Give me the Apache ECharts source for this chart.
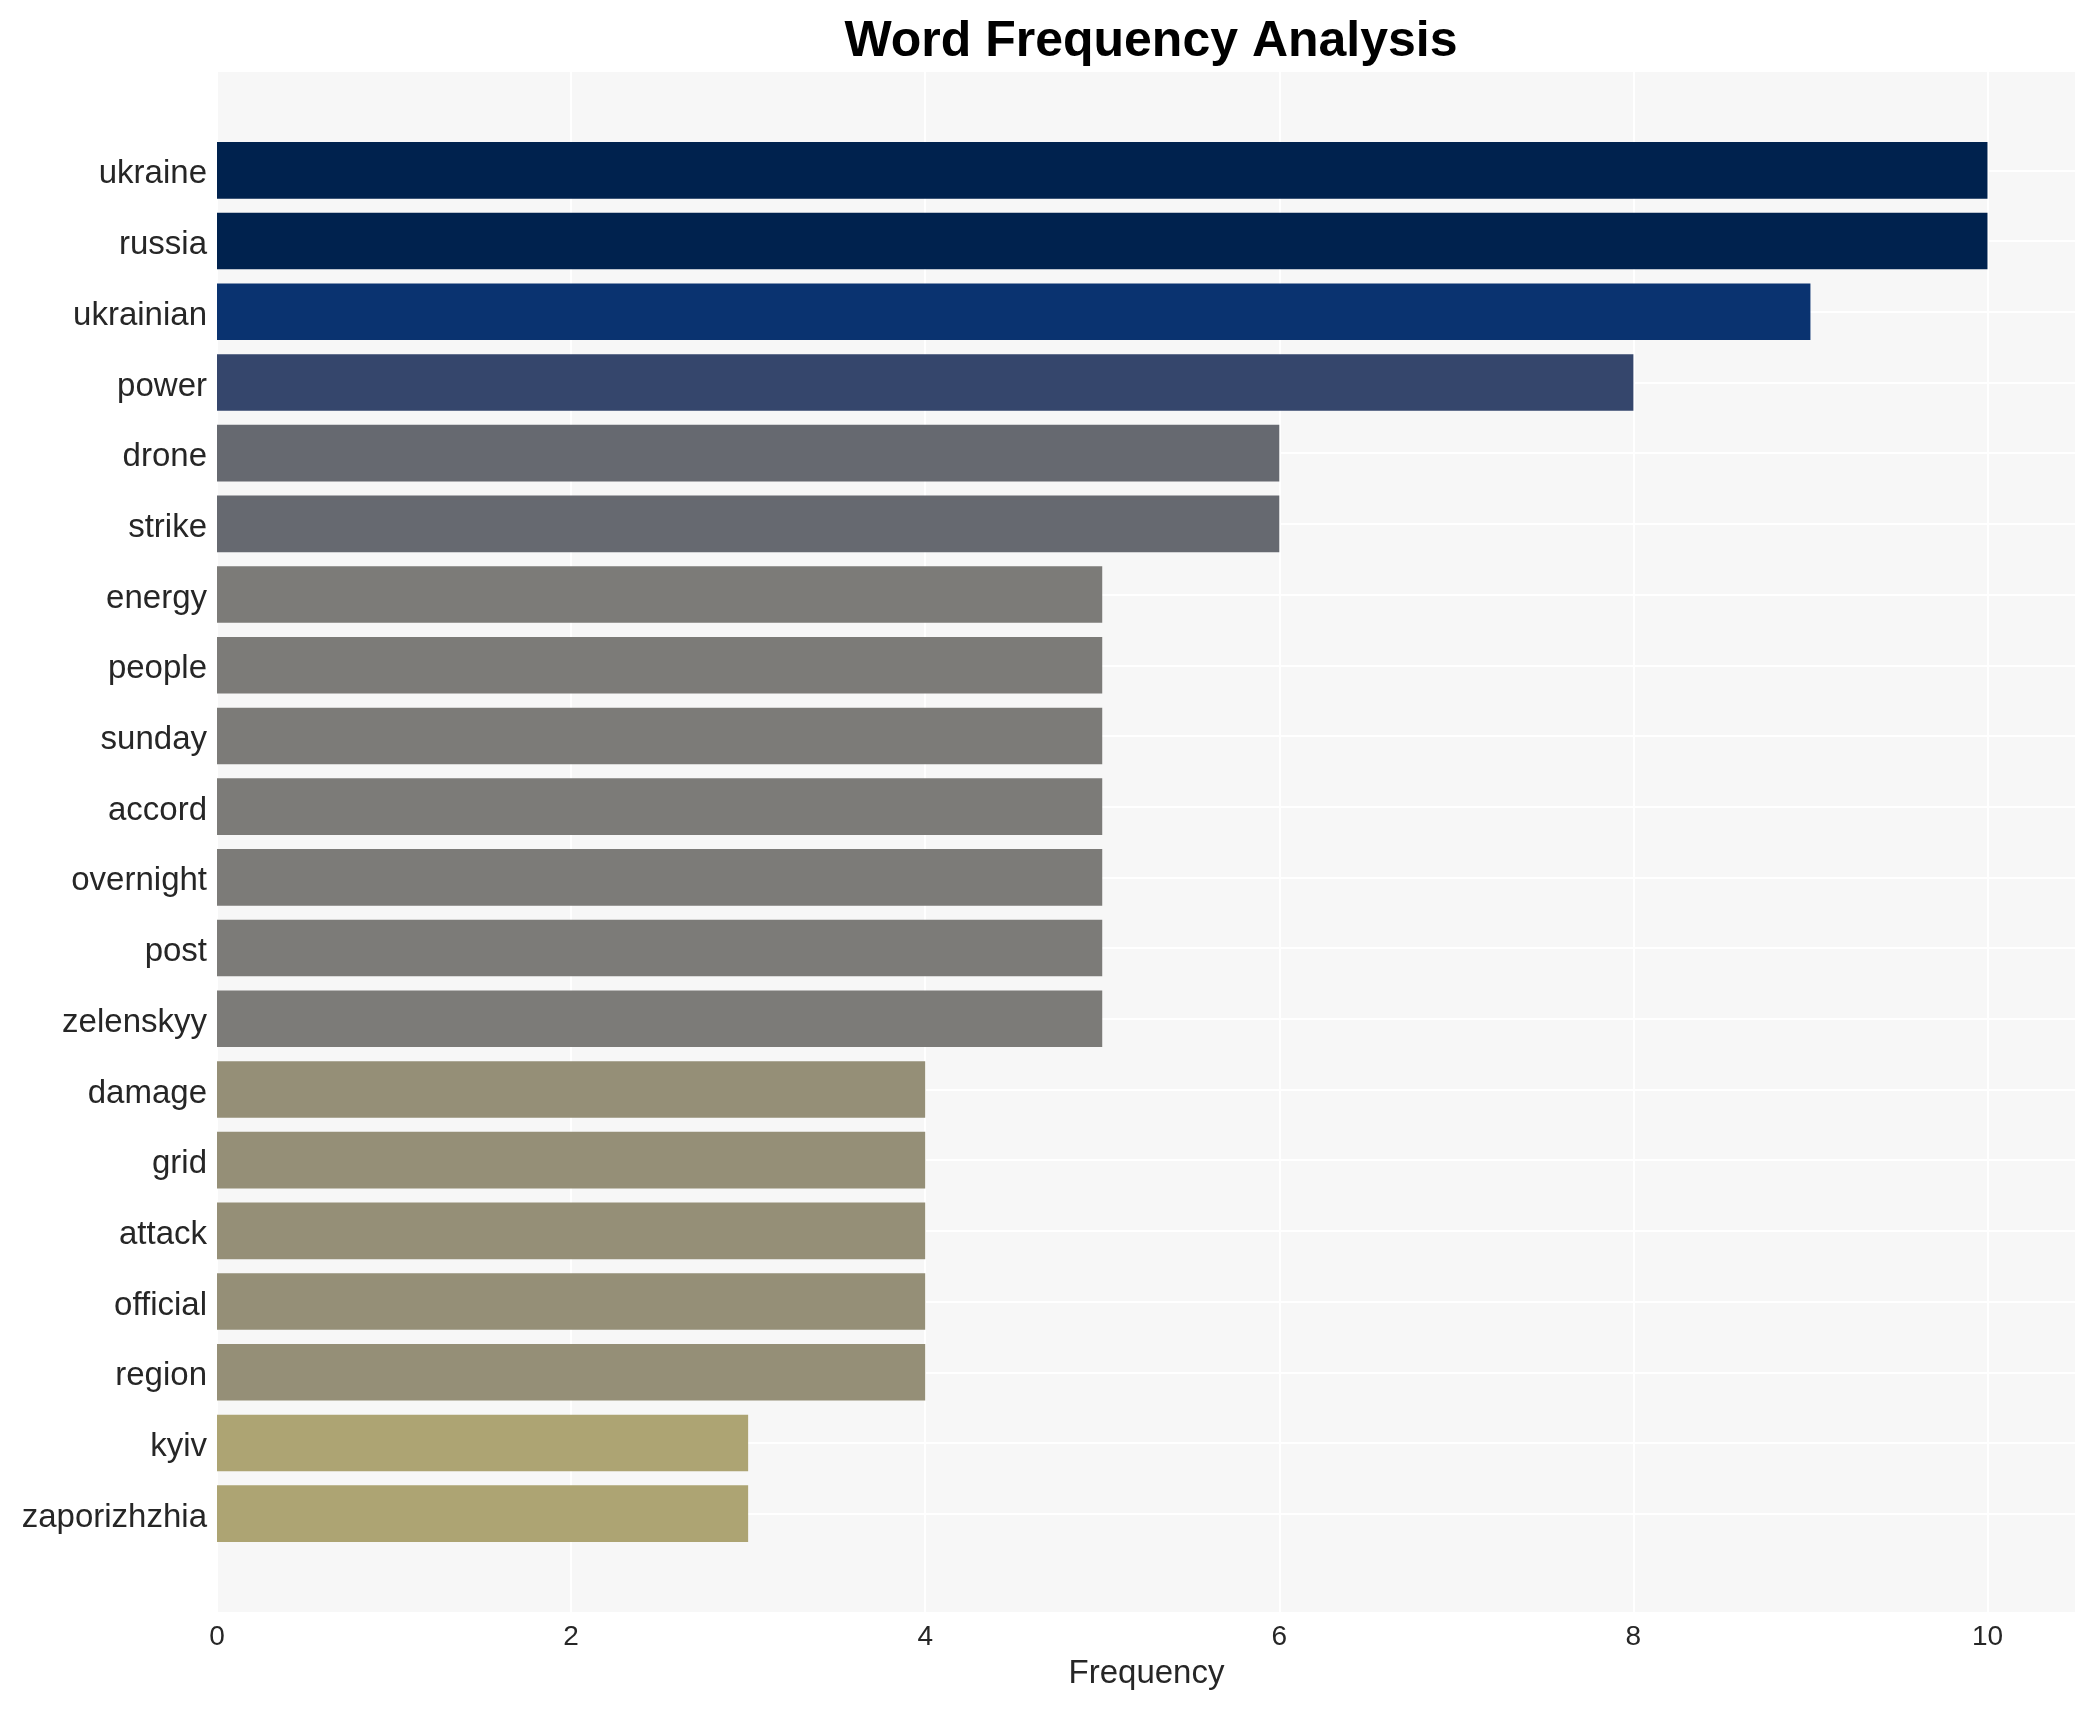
<!DOCTYPE html>
<html>
<head>
<meta charset="utf-8">
<script src="https://cdn.jsdelivr.net/npm/echarts@6/dist/echarts.min.js"></script>
<style>
html,body{margin:0;padding:0;background:#fff;}
#chart{width:2097px;height:1710px;}
</style>
</head>
<body>
<div id="chart"></div>
<script>
const words = ["ukraine","russia","ukrainian","power","drone","strike","energy","people","sunday","accord","overnight","post","zelenskyy","damage","grid","attack","official","region","kyiv","zaporizhzhia"];
const counts = [10,10,9,8,6,6,5,5,5,5,5,5,5,4,4,4,4,4,3,3];
const barColors = ["#00224e","#00224e","#0a3370","#35466c","#666970","#666970","#7c7b78","#7c7b78","#7c7b78","#7c7b78","#7c7b78","#7c7b78","#7c7b78","#958f77","#958f77","#958f77","#958f77","#958f77","#ada473","#ada473"];
const xTicks = [0,2,4,6,8,10];

const chart = echarts.init(document.getElementById('chart'));
const FONT = '"Liberation Sans", Arial, sans-serif';
const option = {
  backgroundColor: '#ffffff',
  animation: false,
  title: {
    text: 'Word Frequency Analysis',
    left: 1146,
    top: 12,
    textAlign: 'center',
    textStyle: {fontFamily: FONT, fontSize: 50, fontWeight: 'bold', color: '#000000'}
  },
  grid: [
    {left: 217, right: 21, top: 135, bottom: 161, containLabel: false, show: false, z: 2},
    {left: 217, right: 21, top: 72, bottom: 98, containLabel: false, show: true, backgroundColor: '#f7f7f7', borderWidth: 0, z: 0}
  ],
  xAxis: [
    {type: 'value', gridIndex: 0, min: 0, max: 10.5, show: false},
    {type: 'value', gridIndex: 1, min: 0, max: 10.5, interval: 2,
     axisLine: {show: false}, axisTick: {show: false},
     axisLabel: {fontFamily: FONT, fontSize: 28, color: '#262626', margin: 11,
       formatter: function(v){ return xTicks.indexOf(v) >= 0 ? String(v) : ''; }},
     splitLine: {show: true, lineStyle: {color: '#ffffff', width: 2}},
     name: 'Frequency', nameLocation: 'middle', nameGap: 45,
     nameTextStyle: {fontFamily: FONT, fontSize: 33, color: '#262626'}}
  ],
  yAxis: [
    {type: 'category', gridIndex: 0, data: words, inverse: true,
     axisLine: {show: false}, axisTick: {show: false},
     axisLabel: {fontFamily: FONT, fontSize: 33, color: '#262626', margin: 10,
       formatter: function(v){ return '{w|' + v + '}'; },
       rich: {w: {fontFamily: FONT, fontSize: 33, color: '#262626', padding: [8, 0, 0, 0]}}},
     splitLine: {show: true, alignWithLabel: true, lineStyle: {color: '#ffffff', width: 2}}},
    {type: 'value', gridIndex: 1, show: false, min: 0, max: 1}
  ],
  series: [{
    type: 'bar',
    xAxisIndex: 0, yAxisIndex: 0,
    barCategoryGap: '20%',
    data: counts.map((v, i) => ({value: v, itemStyle: {color: barColors[i]}})),
    z: 3
  }]
};
chart.setOption(option);
</script>
</body>
</html>
